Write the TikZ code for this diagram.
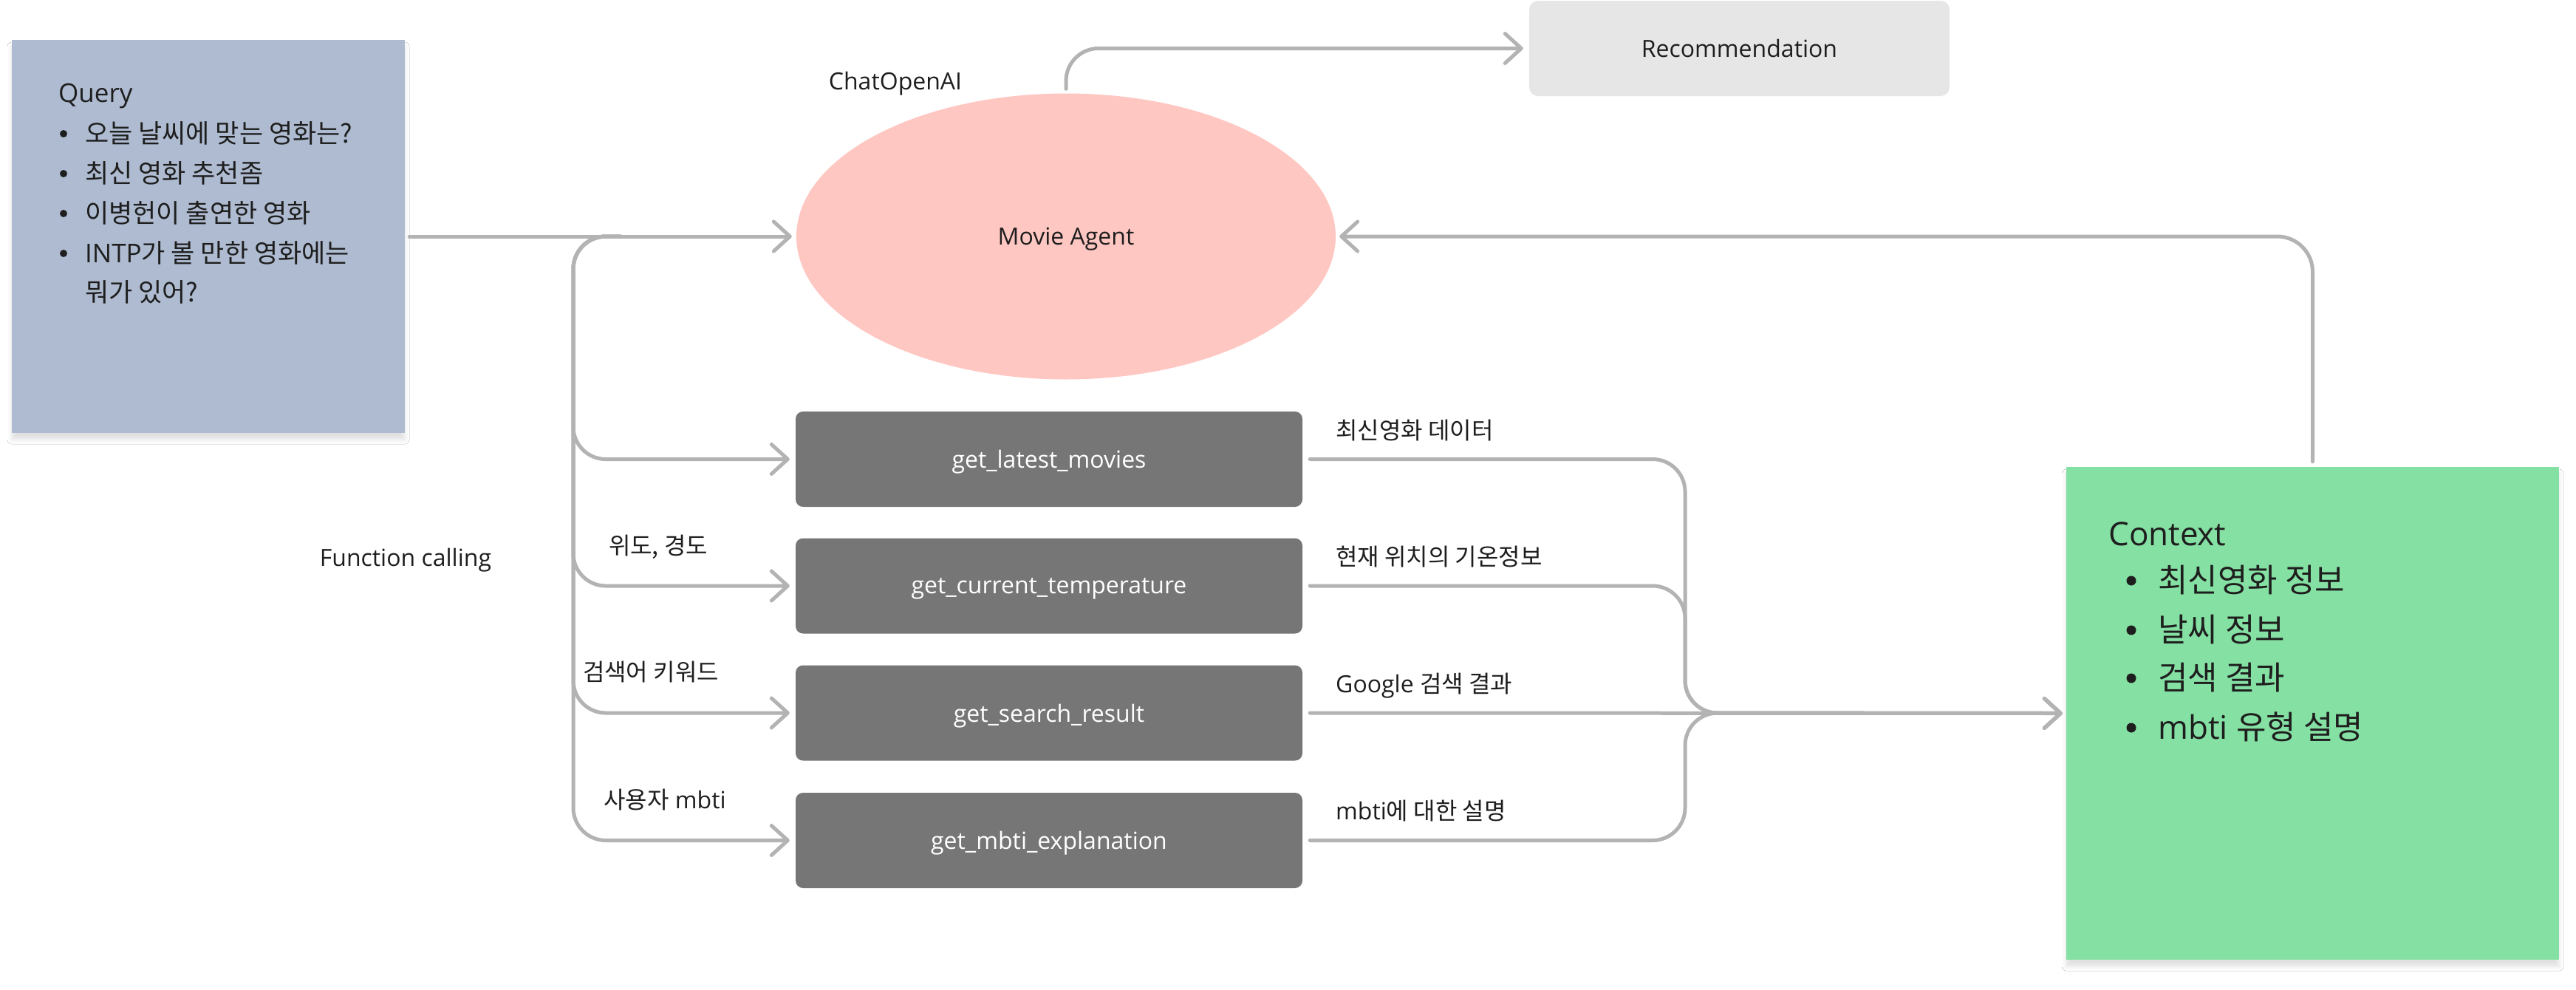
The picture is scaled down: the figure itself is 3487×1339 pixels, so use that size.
\documentclass[tikz,border=0pt]{standalone}
\usepackage{fontspec}
\setmainfont{Open Sans}
\newfontfamily\kr[Scale=1.0]{Noto Sans CJK KR}
\usetikzlibrary{arrows.meta,shapes.geometric,shadows.blur}
\definecolor{qfill}{HTML}{AEBBD0}
\definecolor{agentfill}{HTML}{FFC7C2}
\definecolor{recfill}{HTML}{E6E6E6}
\definecolor{fnfill}{HTML}{767676}
\definecolor{ctxfill}{HTML}{85E0A3}
\definecolor{lineg}{HTML}{B3B3B3}
\definecolor{ink}{HTML}{1E1E1E}
\newcommand\fsz[1]{\fontsize{#1}{#1}\selectfont}
\begin{document}
\begin{tikzpicture}[x=1pt,y=-1pt,
  link/.style={draw=lineg, line width=5pt, line cap=round, rounded corners=44pt},
  arr/.style={link, -{Straight Barb[length=22pt,width=40pt,round]}},
  fnbox/.style={fill=fnfill, rounded corners=10pt, minimum width=686pt, minimum height=129pt, inner sep=0pt, text=white, font=\fsz{32}, text depth=0pt},
  lbl/.style={anchor=base, text=ink, font=\fsz{32}, inner sep=0pt},
  rlbl/.style={anchor=base west, text=ink, font=\fsz{32}, inner sep=0pt},
  qtxt/.style={anchor=base west, text=ink, font=\fsz{35}, inner sep=0pt},
  ctxt/.style={anchor=base west, text=ink, font=\fsz{44}, inner sep=0pt},
  plain/.style={text=ink, font=\fsz{32}, inner sep=0pt, text depth=0pt},
  soft/.style={blur shadow={shadow xshift=0pt, shadow yshift=-9pt, shadow blur radius=6pt, shadow opacity=12}}
]
\useasboundingbox (0,0) rectangle (3487,1339);
\fill[white] (0,0) rectangle (3487,1339);

% Query box
\node[soft, fill=qfill, minimum width=532pt, minimum height=532pt, inner sep=0pt] (query) at (282,320) {};
\node[qtxt] (q0) at (79,138) {Query};
\fill[ink] (86,181) circle (5pt);
\fill[ink] (86,235) circle (5pt);
\fill[ink] (86,289) circle (5pt);
\fill[ink] (86,343) circle (5pt);
\node[qtxt] (q1) at (115,193.5) {\kr 오늘 날씨에 맞는 영화는?};
\node[qtxt] (q2) at (115,247.5) {\kr 최신 영화 추천좀};
\node[qtxt] (q3) at (115,301.5) {\kr 이병헌이 출연한 영화};
\node[qtxt] (q4) at (115,355.5) {INTP{\kr 가 볼 만한 영화에는}};
\node[qtxt] (q5) at (115,408.5) {\kr 뭐가 있어?};

% Agent
\node[ellipse, fill=agentfill, minimum width=730pt, minimum height=387pt, inner sep=0pt, text=ink, font=\fsz{32}, text depth=0pt] (agent) at (1443,320) {Movie Agent};
\node[plain] (chat) at (1212,109) {ChatOpenAI};

% Recommendation
\node[fill=recfill, rounded corners=12pt, minimum width=569pt, minimum height=129pt, inner sep=0pt, text=ink, font=\fsz{32}] (rec) at (2354.5,65.5) {Recommendation};

% Function boxes
\node[fnbox] (f1) at (1420,621.5) {get\_latest\_movies};
\node[fnbox] (f2) at (1420,793) {get\_current\_temperature};
\node[fnbox] (f3) at (1420,965) {get\_search\_result};
\node[fnbox] (f4) at (1420,1137.5) {get\_mbti\_explanation};

% Context box
\node[soft, fill=ctxfill, minimum width=667pt, minimum height=667pt, inner sep=0pt] (ctx) at (3130.5,965.5) {};
\node[ctxt] (c0) at (2854,738) {Context};
\fill[ink] (2885,786) circle (6.5pt);
\fill[ink] (2885,853) circle (6.5pt);
\fill[ink] (2885,918) circle (6.5pt);
\fill[ink] (2885,985) circle (6.5pt);
\node[ctxt] (c1) at (2921,801.8) {\kr 최신영화 정보};
\node[ctxt] (c2) at (2921,868.8) {\kr 날씨 정보};
\node[ctxt] (c3) at (2921,933.8) {\kr 검색 결과};
\node[ctxt] (c4) at (2921,1000.8) {mbti {\kr 유형 설명}};

% Labels
\node[lbl] (fc) at (549,766) {Function calling};
\node[lbl] (lab1) at (891,750.5) {\kr 위도, 경도};
\node[lbl] (lab2) at (881,921.5) {\kr 검색어 키워드};
\node[lbl] (lab3) at (900,1094) {{\kr 사용자} mbti};
\node[rlbl] (r1) at (1808,594) {\kr 최신영화 데이터};
\node[rlbl] (r2) at (1808,765.5) {\kr 현재 위치의 기온정보};
\node[rlbl] (r3) at (1808,937.5) {Google {\kr 검색 결과}};
\node[rlbl] (r4) at (1808,1109.5) {mbti{\kr 에 대한 설명}};

% Connectors left
\coordinate (lsplit) at (776,320);
\coordinate (lstart) at (840,320);
\draw[arr, shorten <=6pt, shorten >=6pt] (query) -- (agent);
\draw[arr, shorten >=8pt] (lstart) -- (lsplit) |- (f1.west);
\draw[arr, shorten >=8pt] (lstart) -- (lsplit) |- (f2.west);
\draw[arr, shorten >=8pt] (lstart) -- (lsplit) |- (f3.west);
\draw[arr, shorten >=8pt] (lstart) -- (lsplit) |- (f4.west);

% Connectors right
\coordinate (rsplit) at (2281,965);
\draw[arr, shorten <=10pt, shorten >=5pt] (f1.east) -| (rsplit) -- (ctx.west);
\draw[arr, shorten <=10pt, shorten >=5pt] (f2.east) -| (rsplit) -- (ctx.west);
\draw[arr, shorten <=10pt, shorten >=5pt] (f3.east) -- (ctx.west);
\draw[arr, shorten <=10pt, shorten >=5pt] (f4.east) -| (rsplit) -- (ctx.west);

% Return and output
\draw[arr, rounded corners=48pt, shorten <=7pt, shorten >=5pt] (ctx.north) |- (agent.east);
\draw[arr, shorten <=6pt, shorten >=8pt] (agent.north) |- (rec.west);
\end{tikzpicture}
\end{document}
